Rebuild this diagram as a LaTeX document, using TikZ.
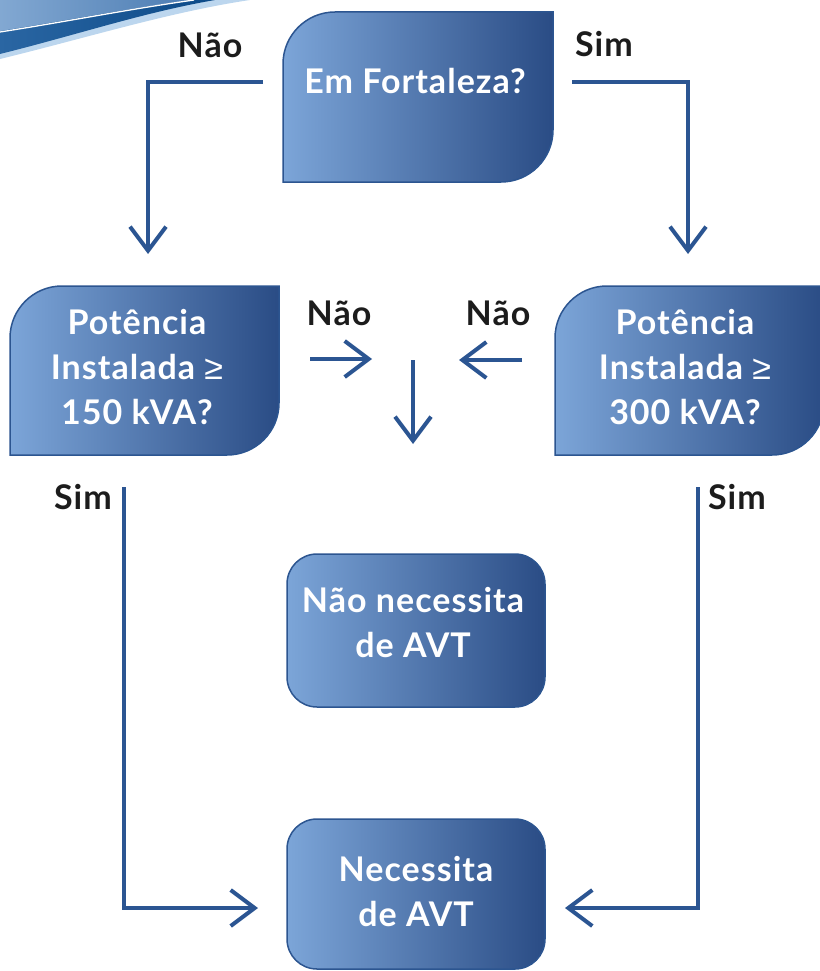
\documentclass[tikz,border=0pt]{standalone}
\usepackage{fontspec}
\setmainfont{Lato}[LetterSpace=3]
\newfontfamily\symf{Liberation Sans}
\usetikzlibrary{arrows.meta,calc}
\definecolor{boxL}{HTML}{7CA5D8}
\definecolor{boxR}{HTML}{2A4C85}
\definecolor{edgeC}{HTML}{2C5590}
\definecolor{connC}{HTML}{2B5592}
\definecolor{labC}{HTML}{1C1C1C}
\definecolor{paleC}{HTML}{BCD6EE}
\definecolor{dkA}{HTML}{2A66A3}
\definecolor{dkB}{HTML}{0C4A88}
\definecolor{ltA}{HTML}{82A8D2}
\definecolor{ltB}{HTML}{4D7DB3}
\begin{document}
\begin{tikzpicture}[x=1pt,y=-1pt,
  boxfill/.style={draw=edgeC,line width=1.5pt,left color=boxL,right color=boxR},
  boxtext/.style={text=white,font=\bfseries\fontsize{34}{45}\selectfont,align=center,inner sep=0pt},
  lab/.style={text=labC,font=\bfseries\fontsize{34}{45}\selectfont,inner sep=0pt,anchor=base},
  frame/.style={inner sep=0pt,outer sep=0pt},
  conn/.style={draw=connC,line width=4pt,-{Straight Barb[length=24pt,width=36pt]}}]
\useasboundingbox (0,0) rectangle (819,971);
% decoration top-left
\fill[paleC] (0,0) -- (0,59) .. controls (90,37) and (170,12) .. (250,0) -- cycle;
\shade[left color=dkA,right color=dkB] (0,0) -- (0,54) .. controls (80,34) and (145,12) .. (215,0) -- cycle;
\shade[left color=ltA,right color=ltB] (0,0) -- (0,31) .. controls (70,20) and (130,8) .. (192,0) -- cycle;
\draw[white,line width=1.3pt] (0,32) .. controls (70,21) and (130,9) .. (194,0);
% box shapes
\path[boxfill] (283,182) -- (283,64) arc[start angle=180,end angle=270,radius=52] -- (553,12) -- (553,130) arc[start angle=0,end angle=90,radius=52] -- cycle;
\path[boxfill] (10,455) -- (10,338) arc[start angle=180,end angle=270,radius=52] -- (279,286) -- (279,403) arc[start angle=0,end angle=90,radius=52] -- cycle;
\path[boxfill] (555,455) -- (555,338) arc[start angle=180,end angle=270,radius=52] -- (824,286) -- (824,403) arc[start angle=0,end angle=90,radius=52] -- cycle;
\path[boxfill,rounded corners=30pt] (287,554) rectangle (545,707);
\path[boxfill,rounded corners=30pt] (287,819) rectangle (545,969);
% named frames
\node[frame,minimum width=270pt,minimum height=170pt] (fort) at (418,97) {};
\node[frame,minimum width=269pt,minimum height=169pt] (p150) at (144.5,370.5) {};
\node[frame,minimum width=269pt,minimum height=169pt] (p300) at (689.5,370.5) {};
\node[frame,minimum width=258pt,minimum height=153pt] (nao) at (416,630.5) {};
\node[frame,minimum width=258pt,minimum height=150pt] (nec) at (416,894) {};
% texts
\node[boxtext,anchor=base] (tfort) at (415,94) {Em Fortaleza?};
\node[boxtext] (tp150) at (137,367) {Potência\\Instalada {\symf\mdseries ≥}\\150 kVA?};
\node[boxtext] (tp300) at (685,367) {Potência\\Instalada {\symf\mdseries ≥}\\300 kVA?};
\node[boxtext] (tnao) at (413,623) {Não necessita\\de AVT};
\node[boxtext] (tnec) at (416,892) {Necessita\\de AVT};
% labels
\node[lab] (l1) at (210,58) {Não};
\node[lab] (l2) at (604,57) {Sim};
\node[lab] (l3) at (339,325) {Não};
\node[lab] (l4) at (498,325) {Não};
\node[lab] (l5) at (83,509) {Sim};
\node[lab] (l6) at (737,509) {Sim};
% connector coordinates
\coordinate (fL) at ($(fort.west)+(-20,-15)$);
\coordinate (fR) at ($(fort.east)+(19,-15)$);
\coordinate (aL) at (148,254);
\coordinate (aR) at (688,254);
\coordinate (m1a) at (310,359);
\coordinate (m1b) at (372,359);
\coordinate (m2a) at (522,360);
\coordinate (m2b) at (459,360);
\coordinate (m3a) at (413,360);
\coordinate (m3b) at (413,444);
\coordinate (sL) at ($(p150.south)+(-20.5,32)$);
\coordinate (sR) at ($(p300.south)+(8.5,32)$);
\coordinate (eL) at ($(nec.west)+(-29,14)$);
\coordinate (eR) at ($(nec.east)+(20,14)$);
\draw[conn] (fL) -| (aL);
\draw[conn] (fR) -| (aR);
\draw[conn] (m1a) -- (m1b);
\draw[conn] (m2a) -- (m2b);
\draw[conn] (m3a) -- (m3b);
\draw[conn] (sL) |- (eL);
\draw[conn] (sR) |- (eR);
\end{tikzpicture}
\end{document}
